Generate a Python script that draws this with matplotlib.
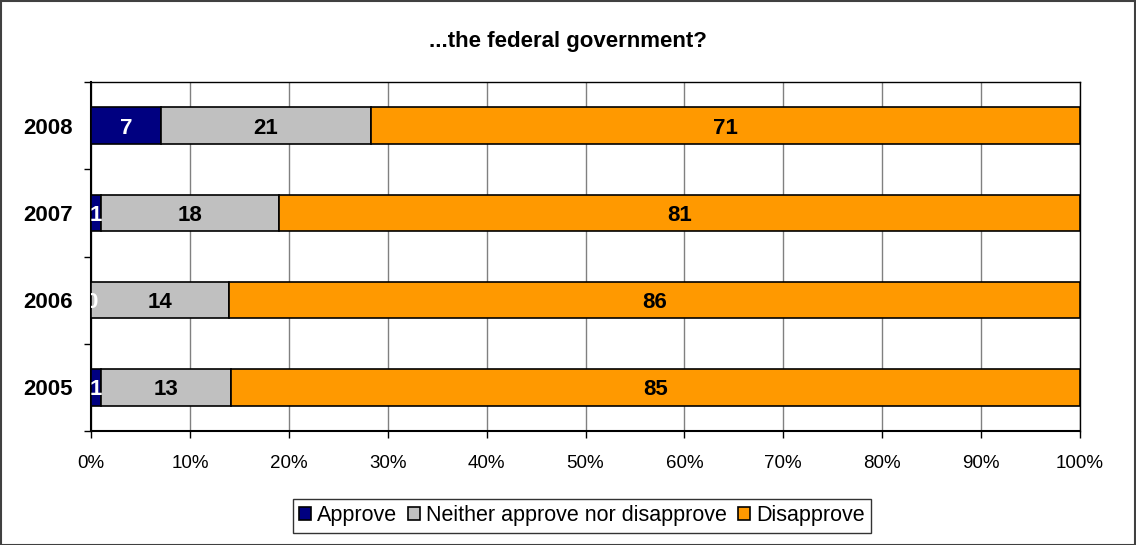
import matplotlib
matplotlib.use("Agg")
import matplotlib.pyplot as plt
import numpy as np
from matplotlib.patches import Rectangle

plt.rcParams['font.family'] = ['Liberation Sans', 'DejaVu Sans']

years = ["2005", "2006", "2007", "2008"]
approve = [1, 0, 1, 7]
neither = [13, 14, 18, 21]
disapprove = [85, 86, 81, 71]
series_names = ["Approve", "Neither approve nor disapprove", "Disapprove"]
colors = ["#000080", "#C0C0C0", "#FF9900"]
label_colors = ["white", "black", "black"]
title = "...the federal government?"

fig = plt.figure(figsize=(11.36, 5.45), dpi=100)
ax = fig.add_axes([91/1136, 1-431/545, (1080-91)/1136, (431-82)/545])

data = np.array([approve, neither, disapprove], dtype=float)
totals = data.sum(axis=0)
pct = data / totals * 100
y = np.arange(len(years))
left = np.zeros(len(years))
for i, name in enumerate(series_names):
    ax.barh(y, pct[i], left=left, height=0.42, color=colors[i],
            edgecolor="black", linewidth=1.2, label=name, zorder=3)
    for j in range(len(years)):
        cx = left[j] + pct[i][j] / 2
        ax.text(cx, y[j], f"{int(data[i][j])}", ha="center",
                va="center_baseline",
                color=label_colors[i], fontsize=16, fontweight="bold",
                zorder=4, clip_on=True)
    left += pct[i]

ax.set_xlim(0, 100)
ax.set_ylim(-0.5, len(years) - 0.5)
ax.set_xticks(np.arange(0, 101, 10))
ax.set_xticklabels([f"{v}%" for v in range(0, 101, 10)], fontsize=13.5)
ax.set_yticks(y)
ax.set_yticklabels(years, fontsize=16, fontweight="bold")
ax.set_yticks(np.arange(-0.5, len(years), 1), minor=True)
ax.tick_params(axis="y", which="major", length=0, pad=13)
ax.tick_params(axis="y", which="minor", length=5, width=1, color="black")
ax.tick_params(axis="x", which="major", length=5, width=1, color="black", pad=12)
ax.xaxis.grid(True, color="#808080", linewidth=1, zorder=0)
ax.set_axisbelow(True)
for s in ["top", "right"]:
    ax.spines[s].set_color("black")
    ax.spines[s].set_linewidth(1)
for s in ["left", "bottom"]:
    ax.spines[s].set_color("black")
    ax.spines[s].set_linewidth(1.5)

fig.text(0.5, 1 - 41/545, title, ha="center", va="center",
         fontsize=16, fontweight="bold")

leg = fig.legend(loc="center", bbox_to_anchor=(582/1136, 1 - 516/545),
                 ncol=3, frameon=True, fontsize=15.5, handlelength=0.55,
                 handleheight=0.55, handletextpad=0.3, columnspacing=0.5,
                 borderpad=0.3, fancybox=False)
leg.get_frame().set_edgecolor("black")
leg.get_frame().set_linewidth(1)

fig.add_artist(Rectangle((0.5/1136, 0.5/545), 1 - 1.5/1136, 1 - 1.5/545,
                         transform=fig.transFigure, fill=False,
                         edgecolor="#404040", linewidth=1.5))

fig.savefig("out.png", dpi=100)
